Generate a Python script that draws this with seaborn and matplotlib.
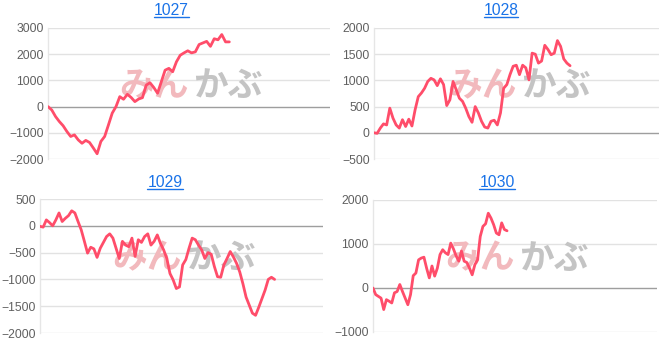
import numpy as np
import pandas as pd
import matplotlib
matplotlib.use("Agg")
import matplotlib.pyplot as plt
from matplotlib.lines import Line2D
import seaborn as sns

titles = ["1027", "1028", "1029", "1030"]

v1027 = [0, -130, -380, -570, -730, -950, -1140, -1080, -1270, -1400, -1290, -1370,
         -1580, -1800, -1330, -1140, -700, -250, 0, 380, 280, 470, 350, 190, 290, 340,
         820, 910, 730, 510, 950, 1390, 1460, 1330, 1710, 1960, 2050, 2130, 2050, 2090,
         2370, 2430, 2490, 2300, 2590, 2550, 2750, 2470, 2470]
v1028 = [0, -10, 90, 170, 150, 470, 280, 150, 90, 250, 120, 260, 130, 440, 690, 760,
         850, 980, 1040, 1010, 900, 1030, 920, 520, 630, 980, 820, 660, 600, 470, 310,
         200, 500, 380, 220, 110, 90, 220, 240, 150, 380, 850, 920, 1110, 1270, 1290,
         1110, 1290, 1240, 1010, 1520, 1500, 1330, 1370, 1670, 1590, 1490, 1520, 1760,
         1650, 1410, 1330, 1280]
v1029 = [-10, -25, 110, 60, 0, 110, 240, 80, 140, 190, 280, 240, 80, -75, -290, -510,
         -400, -430, -590, -420, -310, -200, -150, -230, -420, -610, -290, -360, -390,
         -230, -570, -260, -310, -200, -150, -360, -290, -170, -330, -450, -610, -890,
         -1010, -1170, -1140, -730, -630, -420, -230, -260, -360, -450, -610, -500, -530,
         -760, -950, -960, -730, -610, -480, -580, -700, -860, -1080, -1330, -1480, -1630,
         -1670, -1520, -1360, -1200, -1000, -960, -1000]
v1030 = [0, -150, -190, -230, -490, -265, -300, -340, -110, -80, 80, -80, -230, -380,
         -150, 280, 340, 640, 680, 700, 450, 230, 500, 270, 450, 760, 870, 800, 760, 1020,
         890, 730, 610, 840, 610, 580, 450, 300, 530, 640, 1170, 1400, 1460, 1700, 1590,
         1440, 1250, 1210, 1480, 1330, 1300]

series = [v1027, v1028, v1029, v1030]
ylims = [(-2000, 3000), (-500, 2000), (-2000, 500), (-1000, 2000)]
ysteps = [1000, 500, 500, 1000]
# share of the x axis that the line covers
xshare = [0.643, 0.688, 0.829, 0.472]

positions = [
    [48 / 668, (341 - 159) / 341, 282 / 668, 131 / 341],
    [374 / 668, (341 - 159) / 341, 285 / 668, 131 / 341],
    [40 / 668, (341 - 333) / 341, 283 / 668, 134 / 341],
    [373 / 668, (341 - 332) / 341, 284 / 668, 132 / 341],
]
# title anchor (figure fraction, baseline)
title_pos = [(171.5 / 668, 1 - 15 / 341), (501 / 668, 1 - 15 / 341),
             (165 / 668, 1 - 187 / 341), (497 / 668, 1 - 187 / 341)]

sns.set_theme(style="white")
plt.rcParams['font.family'] = ['Liberation Sans', 'Noto Sans CJK JP', 'DejaVu Sans']

fig = plt.figure(figsize=(6.68, 3.41), dpi=100)
line_color = "#ff4d6a"
title_color = "#1a73e8"
title_texts = []

for k in range(4):
    ax = fig.add_axes(positions[k])
    vals = series[k]
    df = pd.DataFrame({"x": np.arange(len(vals)), "y": vals})
    lo, hi = ylims[k]
    ticks = np.arange(lo, hi + 1, ysteps[k])
    ax.set_ylim(lo, hi)
    ax.set_yticks(ticks)
    ax.set_xlim(0, (len(vals) - 1) / xshare[k])
    ax.set_xticks([])
    for t in ticks:
        ax.axhline(t, color="#9e9e9e" if t == 0 else "#e2e2e2",
                   lw=1.0, zorder=0.5)
    for s in ["top", "right", "bottom"]:
        ax.spines[s].set_visible(False)
    ax.spines["left"].set_color("#e6e6e6")
    ax.spines["left"].set_linewidth(1.0)
    ax.tick_params(axis="y", length=0, pad=3, labelsize=8.7, labelcolor="#606060")
    # watermark
    ax.text(0.5, 0.56, "みん", transform=ax.transAxes, ha="right", va="center",
            fontsize=25, fontweight="bold", color="#f2b9bd",
            family=["Noto Sans CJK JP"], zorder=1)
    ax.text(0.515, 0.56, "かぶ", transform=ax.transAxes, ha="left", va="center",
            fontsize=25, fontweight="bold", color="#c4c4c4",
            family=["Noto Sans CJK JP"], zorder=1)
    sns.lineplot(data=df, x="x", y="y", ax=ax, color=line_color, lw=2.0, zorder=3)
    ax.set_xlabel("")
    ax.set_ylabel("")
    tx, ty = title_pos[k]
    tt = fig.text(tx, ty, titles[k], fontsize=11.3, color=title_color,
                  ha="center", va="baseline")
    title_texts.append(tt)

fig.canvas.draw()
renderer = fig.canvas.get_renderer()
for tt, (tx, ty) in zip(title_texts, title_pos):
    bb = tt.get_window_extent(renderer)
    y = ty * 341 - 2
    fig.add_artist(Line2D([bb.x0 / 668, bb.x1 / 668], [y / 341, y / 341],
                          transform=fig.transFigure, color=title_color, lw=1.0))

fig.savefig("out.png", dpi=100)
